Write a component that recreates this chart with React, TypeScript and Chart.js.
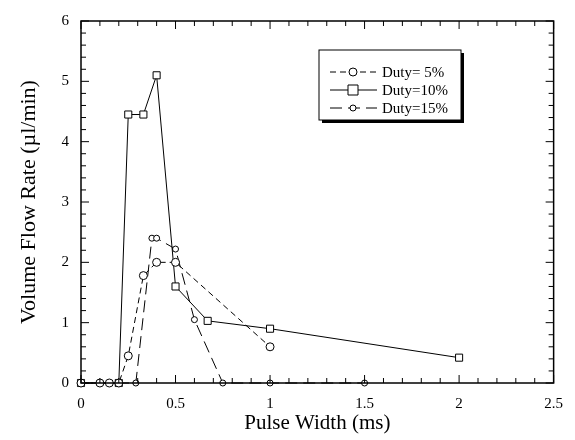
import React, { useEffect, useRef } from "react";
import { Chart, registerables } from "chart.js";

Chart.register(...registerables);

const duty5X = [0, 0.1, 0.15, 0.2, 0.25, 0.33, 0.4, 0.5, 1.0];
const duty5Y = [0, 0, 0, 0, 0.45, 1.78, 2.0, 2.0, 0.6];
const duty10X = [0, 0.2, 0.25, 0.33, 0.4, 0.5, 0.67, 1.0, 2.0];
const duty10Y = [0, 0, 4.45, 4.45, 5.1, 1.6, 1.03, 0.9, 0.42];
const duty15X = [0, 0.29, 0.375, 0.4, 0.5, 0.6, 0.75, 1.0, 1.5];
const duty15Y = [0, 0, 2.4, 2.4, 2.22, 1.05, 0, 0, 0];
const seriesLabels = ["Duty= 5%", "Duty=10%", "Duty=15%"];
const xTitle = "Pulse Width (ms)";
const yTitle = "Volume Flow Rate (\u00b5l/min)";

const FONT = "'Liberation Serif', 'DejaVu Serif', serif";

const toPoints = (xs: number[], ys: number[]) => xs.map((x, i) => ({ x, y: ys[i] }));
const fmt = (v: any) => String(parseFloat(Number(v).toFixed(2)));

const framePlugin = {
  id: "frame",
  afterDraw(chart: any) {
    const { ctx, chartArea: a, scales } = chart;
    const xs = scales.x;
    const ys = scales.y;
    ctx.save();
    ctx.strokeStyle = "#000";
    ctx.lineWidth = 1.5;
    ctx.setLineDash([]);
    ctx.strokeRect(a.left, a.top, a.right - a.left, a.bottom - a.top);
    ctx.lineWidth = 1;
    for (let i = 0; i <= 25; i++) {
      const v = i * 0.1;
      const px = xs.getPixelForValue(v);
      const len = i % 5 === 0 ? 8 : 5;
      ctx.beginPath();
      ctx.moveTo(px, a.bottom);
      ctx.lineTo(px, a.bottom - len);
      ctx.moveTo(px, a.top);
      ctx.lineTo(px, a.top + len);
      ctx.stroke();
    }
    for (let i = 0; i <= 30; i++) {
      const v = i * 0.2;
      const py = ys.getPixelForValue(v);
      const len = i % 5 === 0 ? 8 : 5;
      ctx.beginPath();
      ctx.moveTo(a.left, py);
      ctx.lineTo(a.left + len, py);
      ctx.moveTo(a.right, py);
      ctx.lineTo(a.right - len, py);
      ctx.stroke();
    }
    // legend
    const bx = 319, by = 50, bw = 142, bh = 70;
    ctx.fillStyle = "#000";
    ctx.fillRect(bx + 3, by + 3, bw, bh);
    ctx.fillStyle = "#fff";
    ctx.fillRect(bx, by, bw, bh);
    ctx.strokeStyle = "#000";
    ctx.lineWidth = 1;
    ctx.strokeRect(bx, by, bw, bh);
    const rows = [72, 90, 108];
    chart.data.datasets.forEach((ds: any, i: number) => {
      const y = rows[i];
      ctx.save();
      ctx.strokeStyle = "#000";
      ctx.lineWidth = 1;
      ctx.setLineDash(ds.borderDash || []);
      ctx.beginPath();
      ctx.moveTo(330, y);
      ctx.lineTo(377, y);
      ctx.stroke();
      ctx.setLineDash([]);
      ctx.fillStyle = "#fff";
      const r = ds.pointRadius;
      ctx.beginPath();
      if (ds.pointStyle === "rect") {
        ctx.rect(353 - r, y - r, 2 * r, 2 * r);
      } else {
        ctx.arc(353, y, r, 0, Math.PI * 2);
      }
      ctx.fill();
      ctx.stroke();
      ctx.fillStyle = "#000";
      ctx.font = `15px ${FONT}`;
      ctx.textBaseline = "middle";
      ctx.textAlign = "left";
      ctx.fillText(ds.label, 382, y + 1);
      ctx.restore();
    });
    ctx.restore();
  },
};

const common = {
  showLine: true,
  borderColor: "#000",
  borderWidth: 1,
  pointBackgroundColor: "#fff",
  pointBorderColor: "#000",
  pointBorderWidth: 1,
  clip: false as any,
};

export default function App() {
  const ref = useRef<HTMLCanvasElement>(null);
  useEffect(() => {
    document.body.style.margin = "0";
    const chart = new Chart(ref.current as HTMLCanvasElement, {
      type: "scatter",
      data: {
        datasets: [
          { ...common, label: seriesLabels[0], data: toPoints(duty5X, duty5Y), borderDash: [6, 4], pointStyle: "circle", pointRadius: 4 },
          { ...common, label: seriesLabels[1], data: toPoints(duty10X, duty10Y), borderDash: [], pointStyle: "rect", pointRadius: 5 },
          { ...common, label: seriesLabels[2], data: toPoints(duty15X, duty15Y), borderDash: [12, 6], pointStyle: "circle", pointRadius: 3 },
        ],
      },
      options: {
        animation: false,
        responsive: false,
        layout: { padding: { top: 15, right: 12, left: 0, bottom: 0 } },
        plugins: { legend: { display: false }, tooltip: { enabled: false } },
        scales: {
          x: {
            type: "linear",
            min: 0,
            max: 2.5,
            grid: { display: false, drawTicks: false },
            border: { display: false },
            ticks: { stepSize: 0.5, color: "#000", font: { family: FONT, size: 15 }, padding: 12, maxRotation: 0, callback: fmt },
            title: { display: true, text: xTitle, color: "#000", font: { family: FONT, size: 21 }, padding: { top: 0, bottom: 4 } },
            afterFit: (s: any) => { s.height = 57; },
          },
          y: {
            type: "linear",
            min: 0,
            max: 6,
            grid: { display: false, drawTicks: false },
            border: { display: false },
            ticks: { stepSize: 1, color: "#000", font: { family: FONT, size: 15 }, padding: 12, callback: fmt },
            title: { display: true, text: yTitle, color: "#000", font: { family: FONT, size: 22 }, padding: { top: 16, bottom: 0 } },
            afterFit: (s: any) => { s.width = 81; },
          },
        },
      },
      plugins: [framePlugin],
    });
    return () => chart.destroy();
  }, []);
  return (
    <div style={{ width: 575, height: 440, background: "#fff" }}>
      <canvas ref={ref} width={575} height={440} />
    </div>
  );
}
